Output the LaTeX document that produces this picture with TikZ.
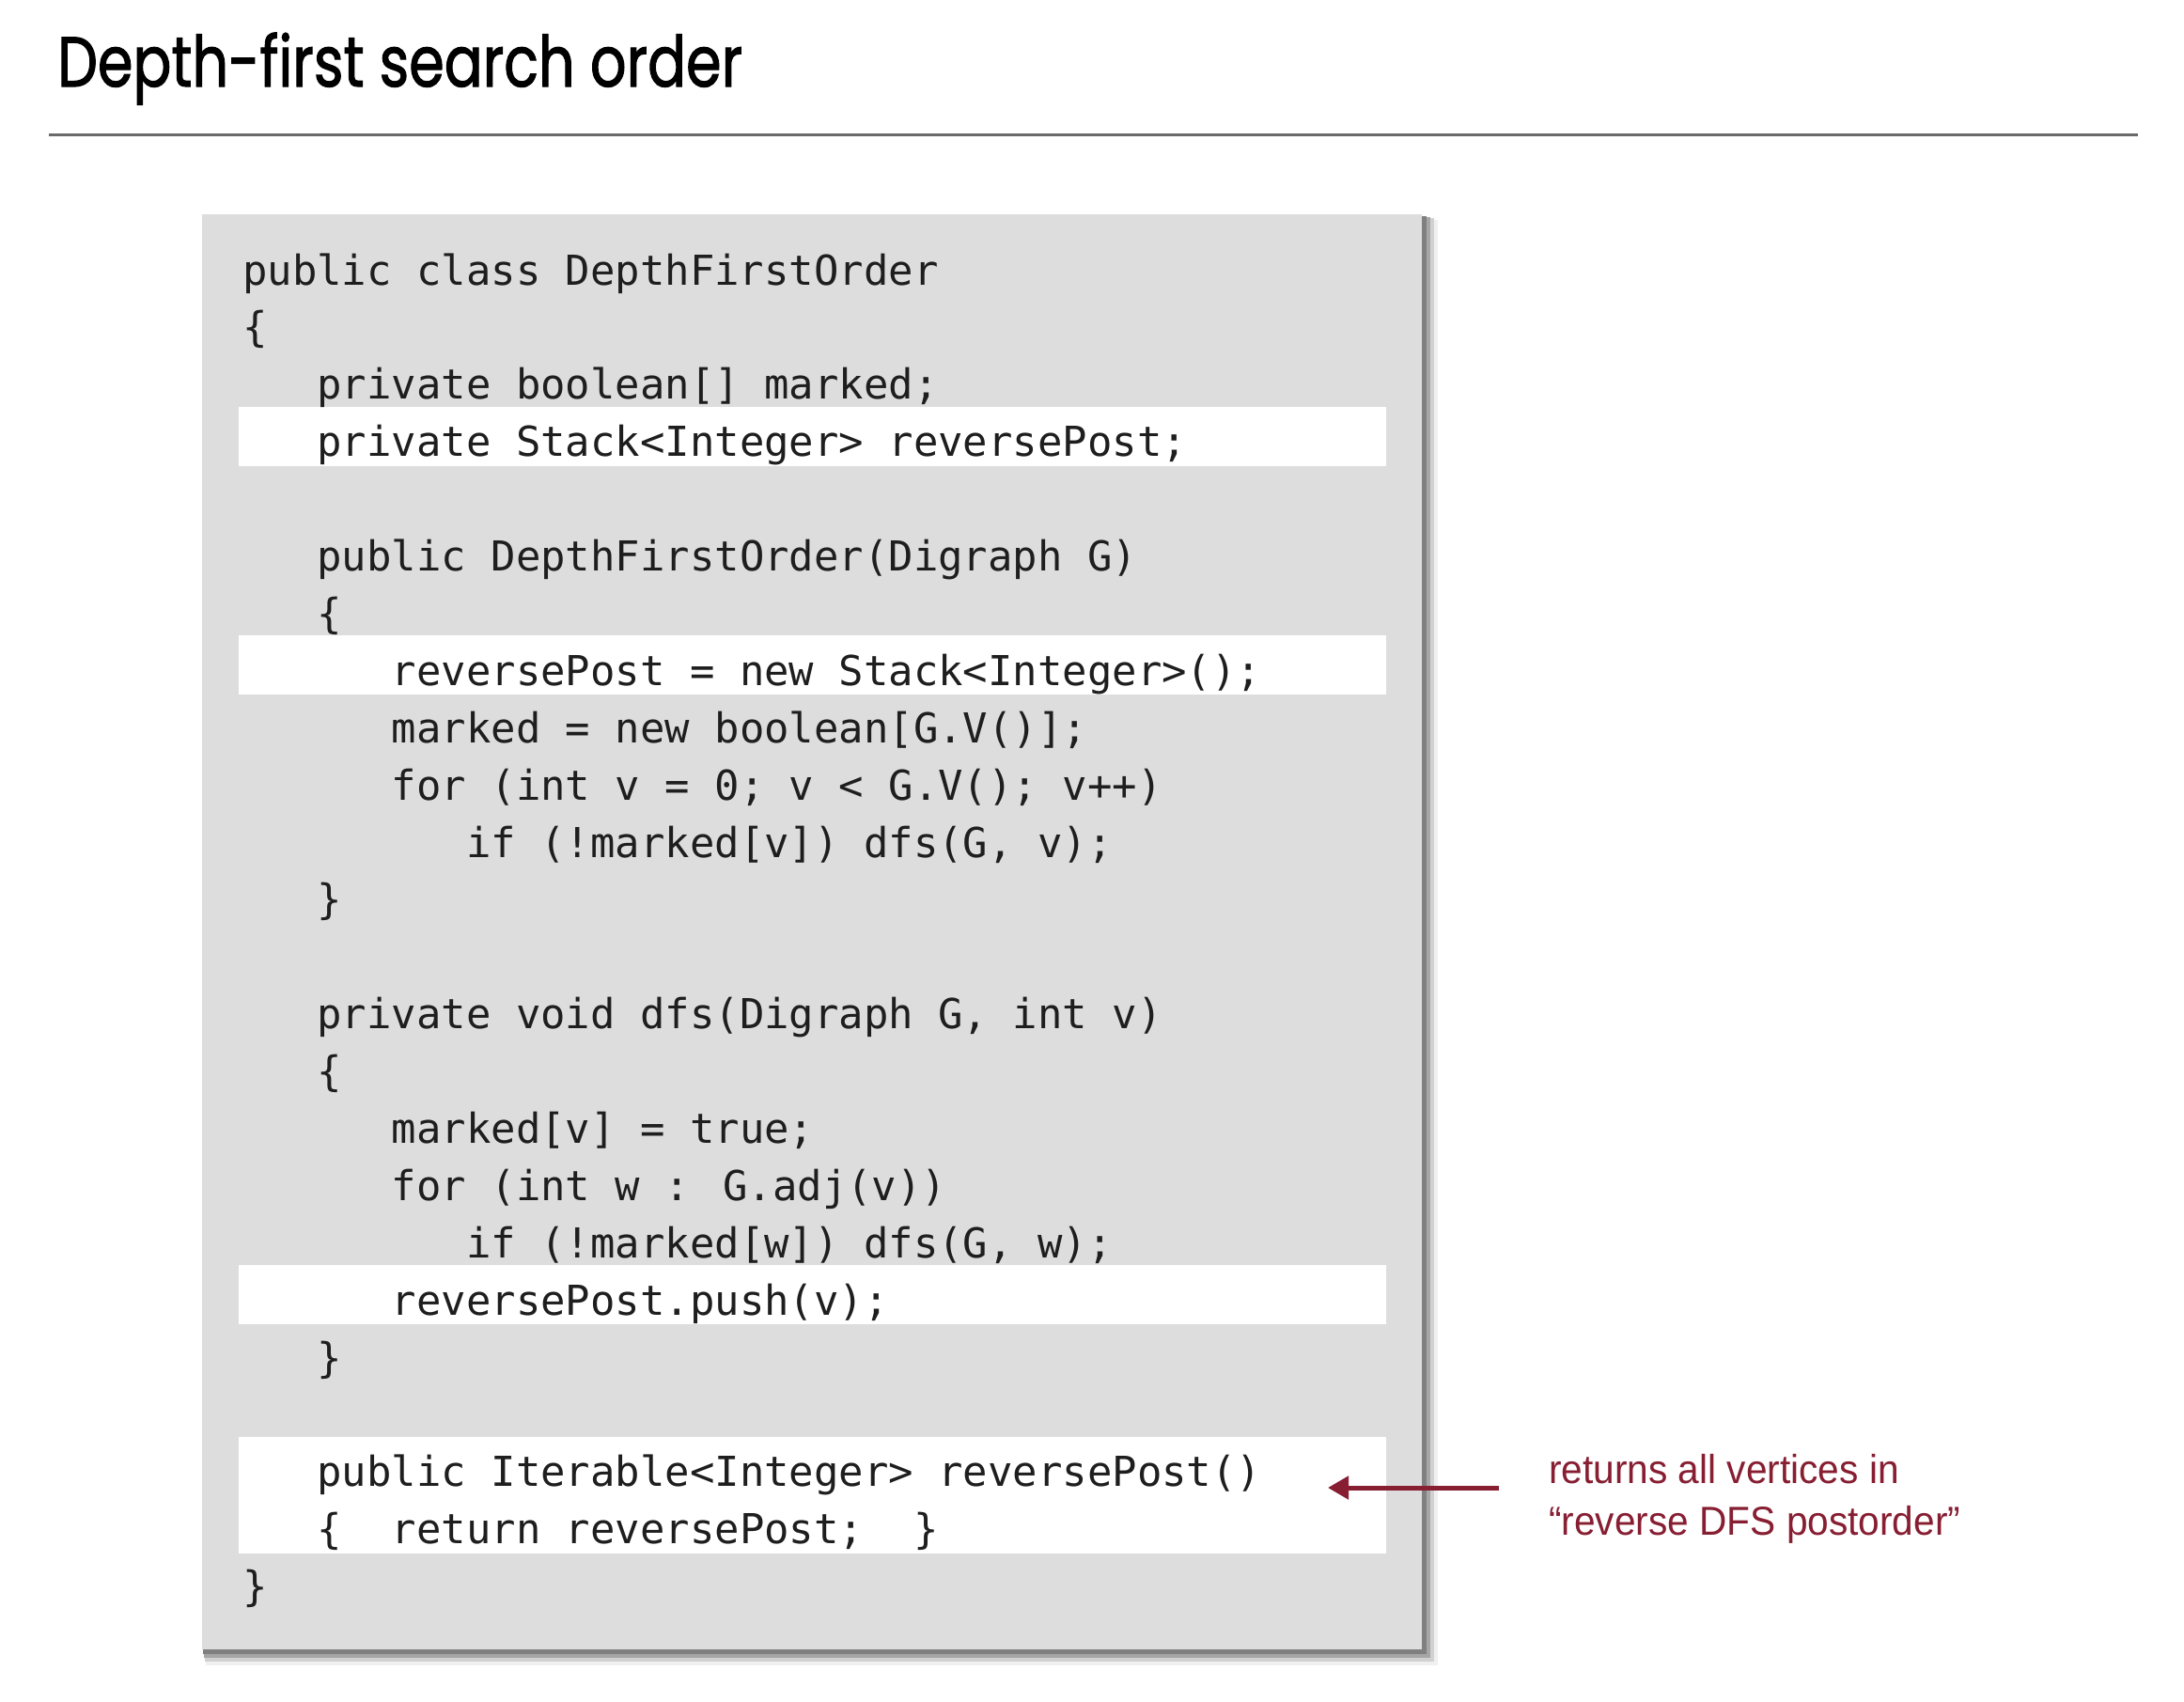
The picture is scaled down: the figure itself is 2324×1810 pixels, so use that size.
\documentclass[tikz,border=0pt]{standalone}
\usepackage{fontspec}
\usetikzlibrary{arrows.meta}
\newfontfamily\codefont{DejaVu Sans Mono}
\newfontfamily\titlefont[FakeBold=1.6]{Poppins}
\newfontfamily\notefont{Liberation Sans}
\definecolor{boxgray}{RGB}{221,221,221}
\definecolor{notered}{RGB}{135,30,50}
\definecolor{codeink}{RGB}{30,30,30}
\definecolor{rulegray}{RGB}{105,105,105}
\newsavebox\ttlbox
\newlength\ttlwd
\newcommand\myline[3]{\node[codetext] (l#1) at ({258+#2*26.44},{303+#1*60.9}) {#3};}
\newcommand\myband[2]{\fill[white] (254,{303+#1*60.9-53}) rectangle (1475,{303+#2*60.9+10});}
\begin{document}
\sbox\ttlbox{\titlefont\fontsize{75}{90}\selectfont Depth-first search order}%
\setlength\ttlwd{\wd\ttlbox}%
\pgfmathsetmacro\tsx{729/\ttlwd}%
\begin{tikzpicture}[x=1pt,y=-1pt,
  codetext/.style={anchor=base west, inner sep=0pt, font=\codefont\fontsize{43.92}{50}\selectfont, text=codeink},
  notetext/.style={anchor=base west, inner sep=0pt, font=\notefont\fontsize{43}{50}\selectfont, text=notered},
  pointer/.style={draw=notered, line width=5pt, -{Triangle[length=22pt,width=24pt]}}]
\useasboundingbox (0,0) rectangle (2324,1810);
\fill[white] (0,0) rectangle (2324,1810);
% title
\node[anchor=base west, inner sep=0pt, text=black] (title) at (61,92) {\scalebox{\tsx}[1]{\usebox\ttlbox}};
\draw[rulegray, line width=3pt] (52,143) -- (2275,143);
% box with shadow
\fill[black!6] (219,234) rectangle (1530,1772);
\fill[black!18] (218,232) rectangle (1526,1768);
\fill[black!35] (217,231) rectangle (1522,1764);
\fill[black!50] (216,230) rectangle (1518,1760);
\fill[boxgray] (215,228) rectangle (1513,1755);
% highlight bands
\myband{3}{3}
\myband{7}{7}
\myband{18}{18}
\myband{21}{22}
% code
\myline{0}{0}{public class DepthFirstOrder}
\myline{1}{0}{\{}
\myline{2}{3}{private boolean[] marked;}
\myline{3}{3}{private Stack<Integer> reversePost;}
\myline{5}{3}{public DepthFirstOrder(Digraph G)}
\myline{6}{3}{\{}
\myline{7}{6}{reversePost = new Stack<Integer>();}
\myline{8}{6}{marked = new boolean[G.V()];}
\myline{9}{6}{for (int v = 0; v < G.V(); v++)}
\myline{10}{9}{if (!marked[v]) dfs(G, v);}
\myline{11}{3}{\}}
\myline{13}{3}{private void dfs(Digraph G, int v)}
\myline{14}{3}{\{}
\myline{15}{6}{marked[v] = true;}
\myline{16}{6}{for (int w : G.adj(v))}
\myline{17}{9}{if (!marked[w]) dfs(G, w);}
\myline{18}{6}{reversePost.push(v);}
\myline{19}{3}{\}}
\myline{21}{3}{public Iterable<Integer> reversePost()}
\myline{22}{3}{\{\ \ return reversePost;\ \ \}}
\myline{23}{0}{\}}
% annotation
\node[notetext] (n1) at (1648,1578) {\scalebox{0.945}[1]{returns all vertices in}};
\node[notetext] (n2) at (1648,1633) {\scalebox{0.945}[1]{“reverse DFS postorder”}};
\coordinate (astart) at (1595,1583);
\coordinate (aend) at (1413,1583);
\draw[pointer] (astart) -- (aend);
\end{tikzpicture}
\end{document}
